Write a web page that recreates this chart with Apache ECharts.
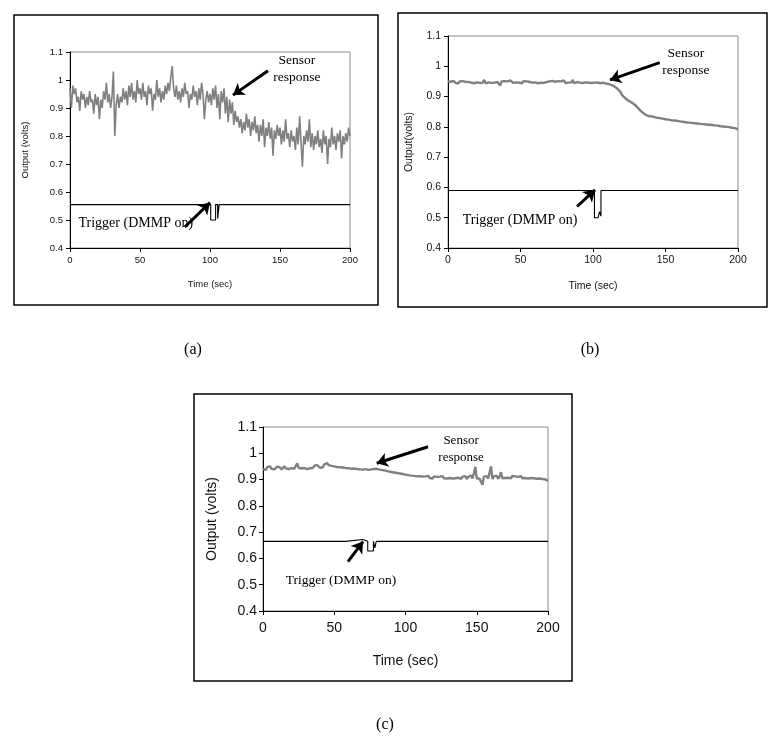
<!DOCTYPE html>
<html><head><meta charset="utf-8">
<script src="https://cdn.jsdelivr.net/npm/echarts@6/dist/echarts.min.js"></script>
<style>html,body{margin:0;padding:0;background:#fff}#c{width:776px;height:746px}</style>
</head><body><div id="c"></div>
<script>
// ---- data (time in seconds = index, 1 s step) ----
const sensorA = [
0.97,0.90,0.98,0.95,0.97,0.92,0.94,0.89,0.96,0.93,
0.95,0.90,0.94,0.91,0.96,0.92,0.93,0.88,0.95,0.91,
0.94,0.86,0.93,0.90,0.96,0.93,0.99,0.92,0.95,0.90,
0.94,1.03,0.80,0.91,0.95,0.90,0.94,0.92,0.97,0.93,
0.96,0.91,0.98,0.94,0.99,0.93,0.96,0.92,1.00,0.95,
0.97,0.93,0.99,0.94,0.96,0.91,0.98,0.95,0.97,0.89,
0.95,0.93,1.00,0.94,0.97,0.92,0.96,0.93,0.98,0.95,
0.99,0.96,1.01,1.05,0.97,0.94,0.98,0.93,0.96,0.92,
0.97,0.94,0.99,0.95,0.96,0.90,0.95,0.93,0.98,0.94,
0.96,0.91,0.97,0.93,0.99,0.95,0.86,0.93,0.96,0.92,
0.95,0.91,0.97,0.93,0.98,0.90,0.95,0.86,0.96,0.92,
0.97,0.88,0.94,0.85,0.93,0.88,0.92,0.84,0.89,0.85,
0.87,0.83,0.86,0.81,0.85,0.82,0.88,0.83,0.86,0.80,
0.85,0.82,0.87,0.81,0.84,0.78,0.84,0.80,0.86,0.76,
0.83,0.80,0.85,0.79,0.83,0.73,0.82,0.79,0.84,0.80,
0.83,0.77,0.82,0.78,0.86,0.79,0.81,0.76,0.82,0.78,
0.80,0.75,0.83,0.77,0.87,0.78,0.69,0.80,0.77,0.82,
0.78,0.86,0.76,0.81,0.75,0.80,0.77,0.82,0.76,0.79,
0.74,0.82,0.77,0.80,0.70,0.79,0.76,0.83,0.77,0.80,
0.75,0.81,0.78,0.82,0.72,0.80,0.77,0.81,0.78,0.83,
0.80];
const trigTimeA = [0,100.5,100.5,104,104,105.5,105.5,106.5,106.5,200];
const trigValA  = [0.555,0.555,0.500,0.500,0.555,0.555,0.505,0.505,0.555,0.555];

const sensorB = [
.950,.944,.949,.946,.952,.945,.948,.943,.950,.947,
.951,.945,.949,.944,.948,.953,.946,.950,.944,.949,
.947,.952,.945,.949,.946,.955,.944,.950,.947,.951,
.945,.949,.946,.952,.948,.943,.937,.950,.947,.951,
.946,.950,.944,.953,.948,.945,.950,.947,.952,.946,
.949,.944,.951,.947,.950,.945,.949,.953,.946,.950,
.947,.951,.944,.949,.946,.950,.945,.951,.948,.944,
.950,.946,.952,.947,.949,.945,.951,.946,.950,.947,
.953,.945,.949,.946,.951,.947,.955,.944,.950,.948,
.951,.946,.949,.945,.950,.947,.952,.946,.949,.945,
.950,.946,.951,.947,.949,.944,.950,.946,.948,.943,
.947,.941,.944,.938,.940,.933,.930,.925,.921,.915,
.905,.902,.896,.893,.888,.884,.882,.878,.876,.873,
.868,.862,.857,.851,.848,.843,.841,.838,.836,.834,
.835,.831,.833,.828,.830,.826,.829,.824,.827,.823,
.825,.821,.824,.819,.822,.818,.821,.817,.820,.815,
.818,.814,.817,.812,.815,.811,.814,.810,.813,.809,
.812,.807,.811,.806,.810,.805,.809,.804,.808,.803,
.807,.802,.806,.801,.805,.800,.804,.799,.802,.797,
.801,.796,.800,.795,.799,.794,.797,.792,.796,.790,
.792];
const trigTimeB = [0,101,101,103.5,104.5,105.5,105.5,200];
const trigValB  = [0.59,0.59,0.50,0.50,0.52,0.505,0.59,0.59];

const sensorC = [
.940,.946,.937,.948,.943,.950,.941,.947,.939,.945,
.949,.942,.946,.938,.944,.951,.943,.947,.940,.946,
.944,.950,.941,.948,.962,.945,.951,.942,.947,.944,
.949,.940,.946,.943,.950,.944,.953,.947,.955,.949,
.945,.951,.947,.958,.952,.963,.955,.958,.952,.956,
.950,.955,.948,.953,.947,.951,.946,.950,.944,.949,
.943,.948,.941,.946,.942,.947,.940,.945,.939,.944,
.938,.943,.940,.945,.937,.942,.939,.944,.940,.937,
.941,.936,.938,.933,.936,.930,.934,.928,.931,.926,
.929,.923,.927,.921,.925,.919,.923,.917,.921,.915,
.919,.913,.917,.911,.915,.909,.914,.908,.912,.907,
.913,.906,.911,.905,.912,.907,.914,.906,.911,.904,
.912,.906,.910,.903,.911,.907,.913,.905,.910,.904,
.911,.906,.912,.904,.909,.905,.912,.907,.910,.903,
.911,.906,.913,.902,.910,.906,.916,.904,.925,.948,
.905,.912,.903,.910,.880,.911,.906,.913,.904,.909,
.950,.902,.912,.906,.915,.903,.911,.928,.905,.910,
.906,.913,.907,.911,.905,.914,.908,.912,.906,.910,
.907,.913,.905,.911,.906,.912,.904,.910,.906,.911,
.905,.909,.903,.910,.904,.908,.902,.907,.901,.903,
.895];
const trigTimeC = [0,58,58,70,70,73.5,73.5,77.5,77.5,78.5,78.5,79.5,79.5,200];
const trigValC  = [0.665,0.665,0.672,0.672,0.665,0.665,0.628,0.628,0.665,0.665,0.64,0.64,0.665,0.665];

const xTicks = [0,50,100,150,200];
const yTicks = [0.4,0.5,0.6,0.7,0.8,0.9,1.0,1.1];
const panelLabels = ['(a)','(b)','(c)'];

// ---- build ----
const pairs = (arr) => arr.map((v,i)=>[i,v]);
const zip = (t,v) => t.map((x,i)=>[x,v[i]]);

const grids = [
  {left:70, top:52, width:280, height:196},
  {left:448, top:36, width:290, height:212},
  {left:263, top:427, width:285, height:184}
];
const fs = [9.5,10.5,14];
const xNameGap = [31,33,43];
const yNameGap = [40,33,44];
const yNames = ['Output (volts)','Output(volts)','Output (volts)'];
const sensors = [sensorA,sensorB,sensorC];
const trigs = [zip(trigTimeA,trigValA),zip(trigTimeB,trigValB),zip(trigTimeC,trigValC)];
const sensorW = [1.6,2.4,2.4];
// annotation anchor points in data space
const annot = [
  {sText:[162,1.039], sArrow:[[141.4,1.033],[116.4,0.946]], tText:[47,0.489], tArrow:[[82,0.475],[100,0.562]], sf:13.5, tf:14},
  {sText:[164,1.014], sArrow:[[146,1.012],[111.7,0.955]], tText:[49.7,0.493], tArrow:[[89,0.537],[101.4,0.592]], sf:13.5, tf:14},
  {sText:[139,1.016], sArrow:[[115.8,1.025],[79.8,0.962]], tText:[54.7,0.518], tArrow:[[59.6,0.588],[70.2,0.664]], sf:13, tf:13.5}
];

const xAxis=[], yAxis=[], series=[];
const fmt = v => String(Math.round(v*10)/10);
for (let k=0;k<3;k++){
  xAxis.push({gridIndex:k, type:'value', min:0, max:200, interval:50,
    name:'Time (sec)', nameLocation:'middle', nameGap:xNameGap[k],
    nameTextStyle:{fontFamily:'Liberation Sans, Arial', fontSize:fs[k], color:'#111'},
    axisLine:{show:true, onZero:false, lineStyle:{color:'#000', width:1}},
    axisTick:{show:true, length:4, lineStyle:{color:'#000'}},
    axisLabel:{fontFamily:'Liberation Sans, Arial', fontSize:fs[k], color:'#111', margin:k==2?10:7},
    splitLine:{show:false}});
  yAxis.push({gridIndex:k, type:'value', min:0.4, max:1.1, interval:0.1,
    name:yNames[k], nameLocation:'middle', nameGap:yNameGap[k], nameRotate:90,
    nameTextStyle:{fontFamily:'Liberation Sans, Arial', fontSize:fs[k], color:'#111'},
    axisLine:{show:true, onZero:false, lineStyle:{color:'#000', width:1}},
    axisTick:{show:true, length:4, lineStyle:{color:'#000'}},
    axisLabel:{fontFamily:'Liberation Sans, Arial', fontSize:fs[k], color:'#111', margin:k==2?6:7, formatter:fmt},
    splitLine:{show:false}});
  series.push({type:'line', xAxisIndex:k, yAxisIndex:k, data:pairs(sensors[k]),
    showSymbol:false, symbol:'none', lineStyle:{color:'#808080', width:sensorW[k]}, z:2});
  const a = annot[k];
  series.push({type:'line', xAxisIndex:k, yAxisIndex:k, data:trigs[k],
    showSymbol:false, symbol:'none', lineStyle:{color:'#000', width:1.1}, z:3,
    markLine:{silent:true, symbol:['none','arrow'], symbolSize:11, animation:false,
      lineStyle:{color:'#000', width:3, type:'solid'}, label:{show:false},
      data:[[{coord:a.sArrow[0]},{coord:a.sArrow[1]}],[{coord:a.tArrow[0]},{coord:a.tArrow[1]}]]},
    markPoint:{silent:true, symbol:'rect', symbolSize:1, itemStyle:{color:'rgba(0,0,0,0)'}, animation:false,
      data:[
        {coord:a.sText, label:{show:true, position:'inside', formatter:'Sensor\nresponse', color:'#000', fontFamily:'Liberation Serif', fontSize:a.sf, lineHeight:a.sf+4}},
        {coord:a.tText, label:{show:true, position:'inside', formatter:'Trigger (DMMP on)', color:'#000', fontFamily:'Liberation Serif', fontSize:a.tf}}
      ]}
  });
}

const frames = [[14,15,364,290],[398,13,369,294],[194,394,378,287]];
const labelPos = [[193,350],[590,350],[385,725]];
const graphic = [];
frames.forEach(f=>graphic.push({type:'rect', shape:{x:f[0],y:f[1],width:f[2],height:f[3]}, style:{fill:null, stroke:'#000', lineWidth:1.5}, silent:true}));
labelPos.forEach((p,i)=>graphic.push({type:'text', x:p[0], y:p[1], style:{text:panelLabels[i], fill:'#000', font:'16px "Liberation Serif"', textAlign:'center', textVerticalAlign:'middle'}, silent:true}));

const chart = echarts.init(document.getElementById('c'));
chart.setOption({
  animation:false, backgroundColor:'#fff',
  grid: grids.map(g=>Object.assign({show:true, borderColor:'#8a8a8a', borderWidth:1, backgroundColor:'transparent'}, g)),
  xAxis, yAxis, series, graphic
});
</script></body></html>
